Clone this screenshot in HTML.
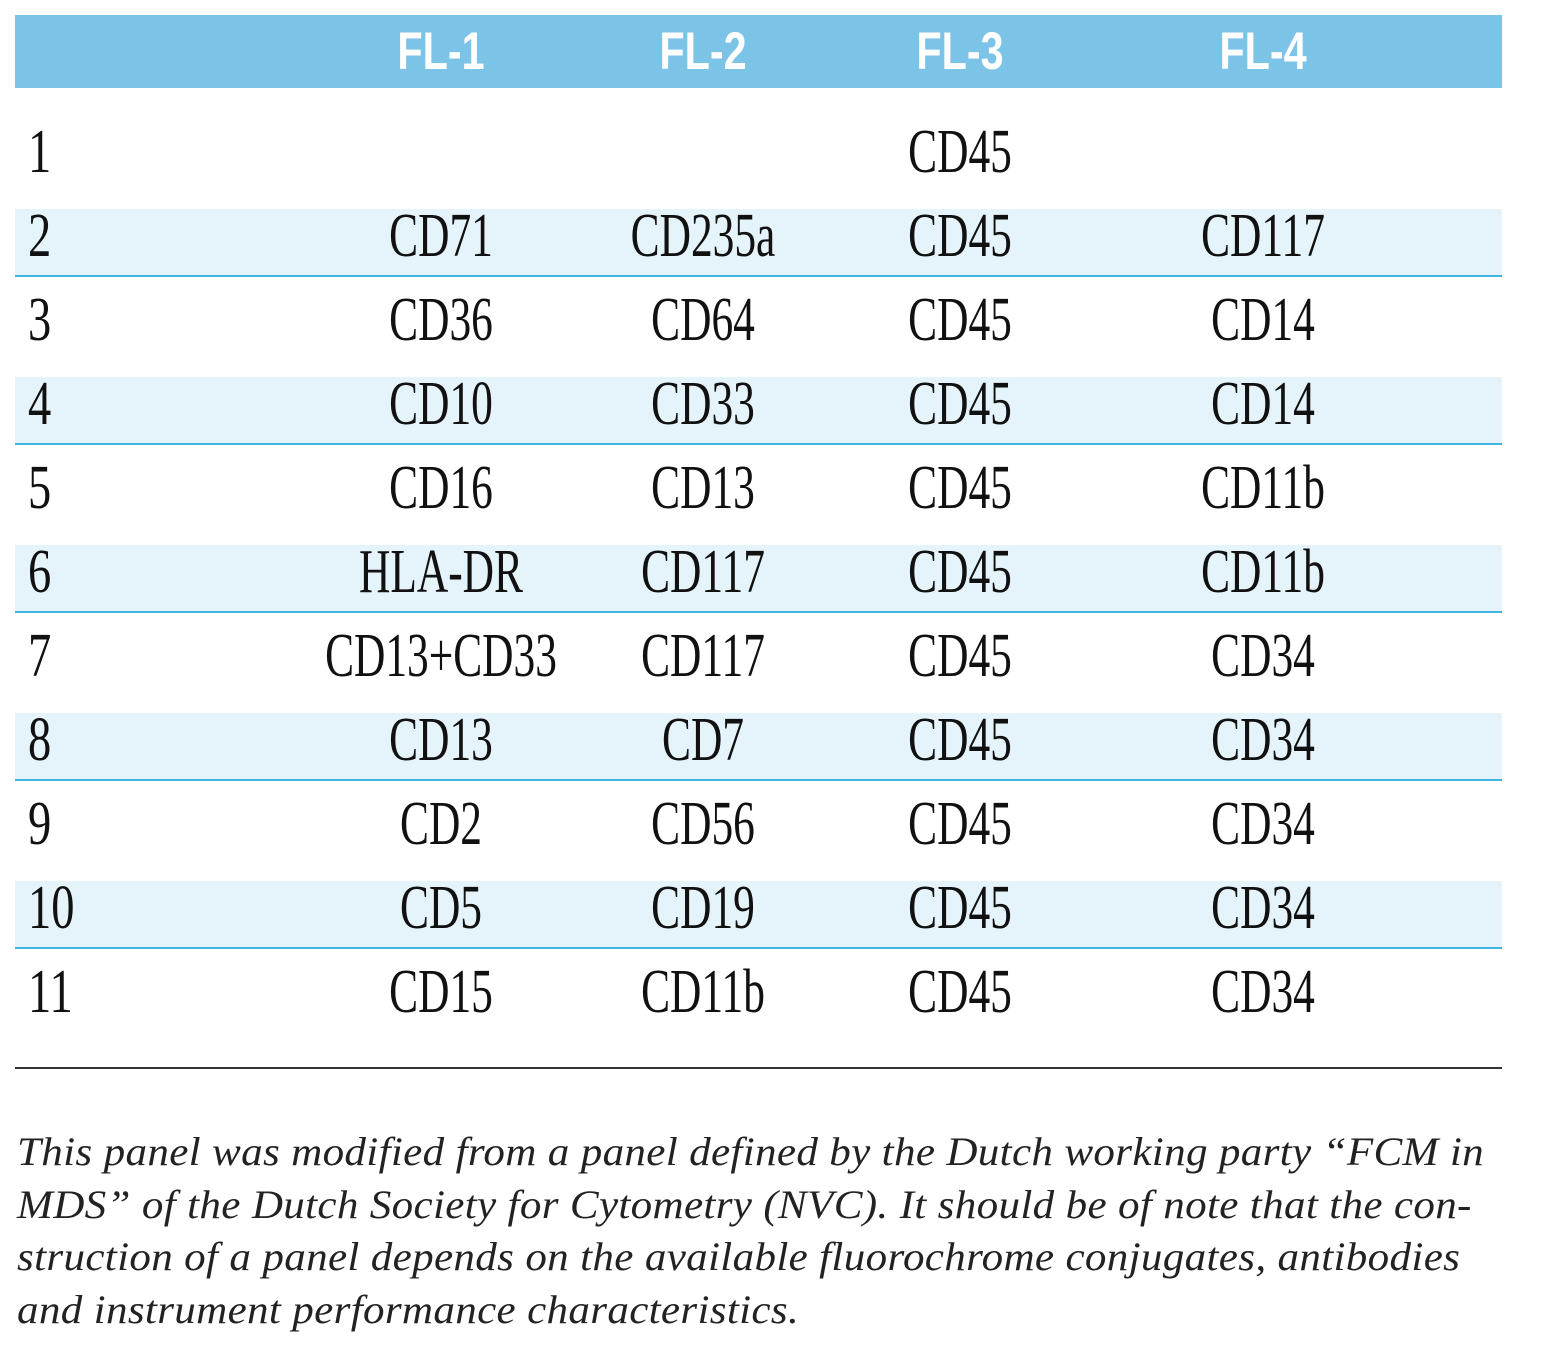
<!DOCTYPE html>
<html><head><meta charset="utf-8"><style>
body{margin:0;background:#fff;width:1548px;height:1367px;position:relative;overflow:hidden}
.hdr{position:absolute;left:15px;top:15px;width:1487px;height:73px;background:#7cc4e7}
.band{position:absolute;left:15px;width:1487px;height:66px;background:#e5f4fb;border-bottom:2px solid #3fb5e0}
.h{position:absolute;top:15px;height:73px;line-height:73px;font-family:"Liberation Sans",sans-serif;font-weight:bold;font-size:53px;color:#fff;transform:translateX(-50%) scaleX(0.78);white-space:nowrap}
.c{position:absolute;font-family:"Liberation Serif",serif;font-size:62px;color:#111;line-height:70px;height:70px;transform:translateX(-50%) scaleX(0.7);white-space:nowrap}
.n{position:absolute;left:28px;font-family:"Liberation Serif",serif;font-size:62px;color:#111;line-height:70px;height:70px;transform-origin:0 0;transform:scaleX(0.75)}
.rule{position:absolute;left:15px;top:1067px;width:1487px;height:2px;background:#333}
.cap{position:absolute;left:17px;top:1126px;width:1400px;font-family:"Liberation Serif",serif;font-style:italic;font-size:40px;line-height:52.5px;color:#222;letter-spacing:0.3px;transform-origin:0 0;transform:scaleX(1.077);white-space:nowrap}
</style></head><body>
<div class="hdr"></div>
<div class="h" style="left:441px">FL-1</div>
<div class="h" style="left:703px">FL-2</div>
<div class="h" style="left:960px">FL-3</div>
<div class="h" style="left:1263px">FL-4</div>
<div class="band" style="top:209px"></div>
<div class="band" style="top:377px"></div>
<div class="band" style="top:545px"></div>
<div class="band" style="top:713px"></div>
<div class="band" style="top:881px"></div>
<div class="n" style="top:117px">1</div><div class="c" style="left:960px;top:117px">CD45</div>
<div class="n" style="top:201px">2</div><div class="c" style="left:441px;top:201px">CD71</div><div class="c" style="left:703px;top:201px">CD235a</div><div class="c" style="left:960px;top:201px">CD45</div><div class="c" style="left:1263px;top:201px">CD117</div>
<div class="n" style="top:285px">3</div><div class="c" style="left:441px;top:285px">CD36</div><div class="c" style="left:703px;top:285px">CD64</div><div class="c" style="left:960px;top:285px">CD45</div><div class="c" style="left:1263px;top:285px">CD14</div>
<div class="n" style="top:369px">4</div><div class="c" style="left:441px;top:369px">CD10</div><div class="c" style="left:703px;top:369px">CD33</div><div class="c" style="left:960px;top:369px">CD45</div><div class="c" style="left:1263px;top:369px">CD14</div>
<div class="n" style="top:453px">5</div><div class="c" style="left:441px;top:453px">CD16</div><div class="c" style="left:703px;top:453px">CD13</div><div class="c" style="left:960px;top:453px">CD45</div><div class="c" style="left:1263px;top:453px">CD11b</div>
<div class="n" style="top:537px">6</div><div class="c" style="left:441px;top:537px">HLA-DR</div><div class="c" style="left:703px;top:537px">CD117</div><div class="c" style="left:960px;top:537px">CD45</div><div class="c" style="left:1263px;top:537px">CD11b</div>
<div class="n" style="top:621px">7</div><div class="c" style="left:441px;top:621px">CD13+CD33</div><div class="c" style="left:703px;top:621px">CD117</div><div class="c" style="left:960px;top:621px">CD45</div><div class="c" style="left:1263px;top:621px">CD34</div>
<div class="n" style="top:705px">8</div><div class="c" style="left:441px;top:705px">CD13</div><div class="c" style="left:703px;top:705px">CD7</div><div class="c" style="left:960px;top:705px">CD45</div><div class="c" style="left:1263px;top:705px">CD34</div>
<div class="n" style="top:789px">9</div><div class="c" style="left:441px;top:789px">CD2</div><div class="c" style="left:703px;top:789px">CD56</div><div class="c" style="left:960px;top:789px">CD45</div><div class="c" style="left:1263px;top:789px">CD34</div>
<div class="n" style="top:873px">10</div><div class="c" style="left:441px;top:873px">CD5</div><div class="c" style="left:703px;top:873px">CD19</div><div class="c" style="left:960px;top:873px">CD45</div><div class="c" style="left:1263px;top:873px">CD34</div>
<div class="n" style="top:957px">11</div><div class="c" style="left:441px;top:957px">CD15</div><div class="c" style="left:703px;top:957px">CD11b</div><div class="c" style="left:960px;top:957px">CD45</div><div class="c" style="left:1263px;top:957px">CD34</div>
<div class="rule"></div>
<div class="cap">This panel was modified from a panel defined by the Dutch working party “FCM in<br>MDS” of the Dutch Society for Cytometry (NVC). It should be of note that the con-<br>struction of a panel depends on the available fluorochrome conjugates, antibodies<br>and instrument performance characteristics.</div>
</body></html>
